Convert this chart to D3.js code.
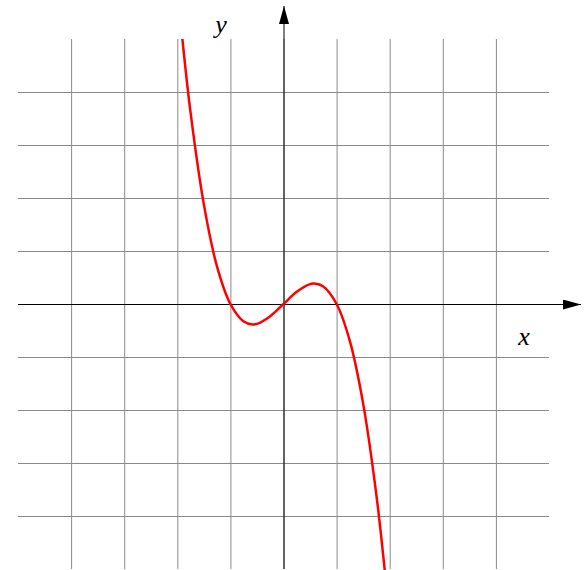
<!DOCTYPE html>
<html>
<head>
<meta charset="utf-8">
<script src="https://cdn.jsdelivr.net/npm/d3@7"></script>
<style>
  body { margin: 0; background: #fff; }
  svg { display: block; }
  .lbl { font-family: "Liberation Serif", "DejaVu Serif", serif; font-style: italic; font-size: 26px; fill: #000; }
</style>
</head>
<body>
<svg id="chart" width="587" height="570"></svg>
<script>
// grid ticks
var gridTicks = [-4, -3, -2, -1, 0, 1, 2, 3, 4];
// curve samples
var curveX = [-2, -1.9, -1.75, -1.5, -1.25, -1, -0.75, -0.58, -0.5, -0.25, 0, 0.25, 0.5, 0.58, 0.75, 1, 1.25, 1.5, 1.75, 1.9, 2];
var curveY = [6, 4.96, 3.61, 1.88, 0.70, 0, -0.33, -0.385, -0.375, -0.23, 0, 0.23, 0.375, 0.385, 0.33, 0, -0.70, -1.88, -3.61, -4.96, -6];

var svg = d3.select("#chart");

var x = d3.scaleLinear().domain([-5, 5]).range([18, 549]);
var y = d3.scaleLinear().domain([-5, 5]).range([569, 39]);

// grid
svg.append("g")
    .attr("transform", "translate(0,569)")
    .call(d3.axisBottom(x).tickValues(gridTicks).tickSize(-530).tickFormat(""))
    .call(function (g) {
        g.select(".domain").remove();
        g.selectAll("line").attr("stroke", "#8a8a8a").attr("stroke-width", 1);
    });

svg.append("g")
    .attr("transform", "translate(18,0)")
    .call(d3.axisLeft(y).tickValues(gridTicks).tickSize(-531).tickFormat(""))
    .call(function (g) {
        g.select(".domain").remove();
        g.selectAll("line").attr("stroke", "#8a8a8a").attr("stroke-width", 1);
    });

// arrow marker
svg.append("defs").append("marker")
    .attr("id", "arrow")
    .attr("viewBox", "0 0 18 10")
    .attr("refX", 18).attr("refY", 5)
    .attr("markerWidth", 18).attr("markerHeight", 10)
    .attr("markerUnits", "userSpaceOnUse")
    .attr("orient", "auto")
    .append("path")
    .attr("d", "M0,0 L18,5 L0,10 Z")
    .attr("fill", "#000");

// axes
svg.append("line")
    .attr("x1", 18).attr("y1", y(0) + 0.5)
    .attr("x2", 581).attr("y2", y(0) + 0.5)
    .attr("stroke", "#000").attr("stroke-width", 1)
    .attr("marker-end", "url(#arrow)");

svg.append("line")
    .attr("x1", x(0) + 0.5).attr("y1", 569)
    .attr("x2", x(0) + 0.5).attr("y2", 6)
    .attr("stroke", "#000").attr("stroke-width", 1)
    .attr("marker-end", "url(#arrow)");

// curve
svg.append("clipPath").attr("id", "clip")
    .append("rect").attr("x", 0).attr("y", 39).attr("width", 587).attr("height", 531);

var pts = d3.zip(curveX, curveY);
svg.append("path")
    .datum(pts)
    .attr("clip-path", "url(#clip)")
    .attr("fill", "none")
    .attr("stroke", "#ff0000")
    .attr("stroke-width", 2.5)
    .attr("d", d3.line()
        .x(function (d) { return x(d[0]); })
        .y(function (d) { return y(d[1]); })
        .curve(d3.curveCatmullRom));

// labels
svg.append("text").attr("class", "lbl").attr("x", 221).attr("y", 33).attr("text-anchor", "middle").text("y");
svg.append("text").attr("class", "lbl").attr("x", 524).attr("y", 345).attr("text-anchor", "middle").text("x");
</script>
</body>
</html>
